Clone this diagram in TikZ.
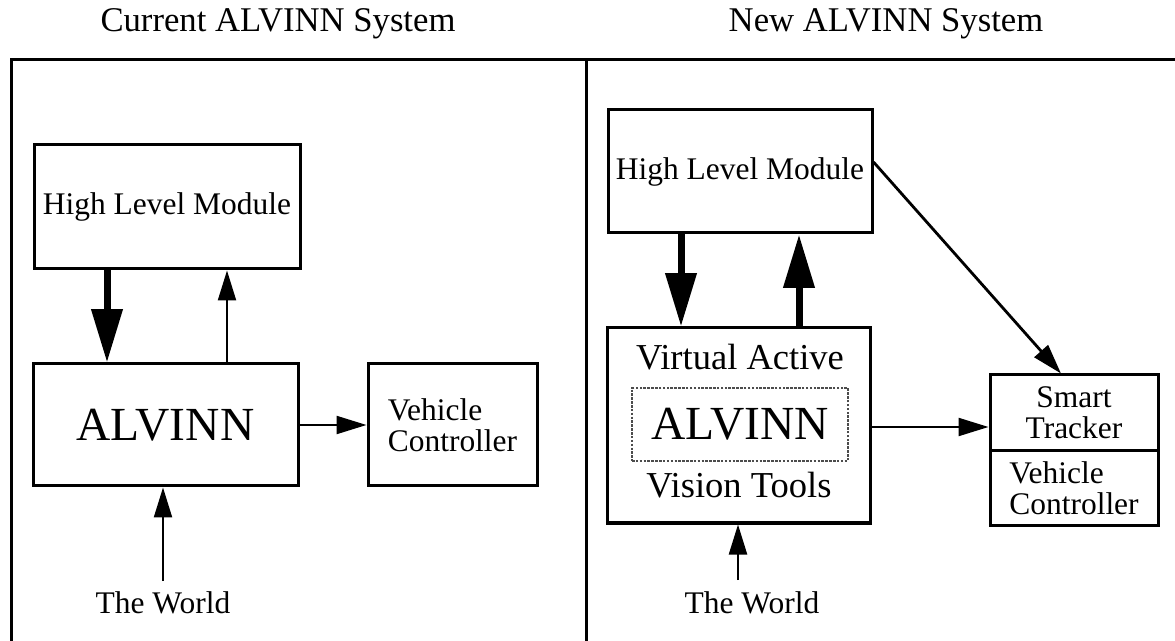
\documentclass[tikz,border=0pt]{standalone}
\usepackage{fontspec}
\setmainfont{Liberation Serif}
\usetikzlibrary{arrows.meta}
\tikzset{
  frameline/.style={line width=2.25pt},
  box/.style={draw, line width=2.25pt, rectangle, inner sep=0pt, align=center},
  lbox/.style={draw, line width=2.25pt, rectangle, inner sep=0pt, align=left},
  dotbox/.style={draw=black!70, line width=1.9pt, densely dotted, rectangle, inner sep=0pt},
  txt/.style={font=\fontsize{23.6pt}{23.3pt}\selectfont},
  ttl/.style={font=\fontsize{26pt}{30pt}\selectfont},
  big/.style={font=\fontsize{35.6pt}{40pt}\selectfont},
  vatxt/.style={font=\fontsize{27.4pt}{30pt}\selectfont},
  fatarr/.style={line width=5.25pt, -{Triangle[length=40pt,width=22.5pt]}},
  thinarr/.style={line width=1.7pt, -{Triangle[length=22.5pt,width=13.5pt]}},
}
\begin{document}
\begin{tikzpicture}[x=0.75pt, y=-0.75pt]
\useasboundingbox (0,0) rectangle (1175,641);
% titles
\node[ttl] (t1) at (278,24) {Current ALVINN System};
\node[ttl] (t2) at (886,24) {New ALVINN System};
% frame
\draw[frameline] (11,641) -- (11,60) -- (1175,60);
\draw[frameline] (586,60) -- (586,641);

% left panel
\node[box, txt, minimum width=199.5pt, minimum height=93pt] (hlm1) at (167,207) {High Level Module};
\node[box, big, minimum width=198.75pt, minimum height=91.5pt] (alv1) at (165.5,425) {ALVINN};
\node[lbox, txt, minimum width=126.75pt, minimum height=91.5pt] (vc1) at (452.5,425) {Vehicle\\Controller};
\node[txt] (w1) at (163,603) {The World};
\draw[fatarr] (hlm1.south -| 107,0) -- (alv1.north -| 107,0);
\draw[thinarr] (alv1.north -| 227,0) -- (hlm1.south -| 227,0);
\draw[thinarr] (alv1.east) -- (vc1.west);
\draw[thinarr] (w1.north -| 163,0) ++(0,-6) -- (alv1.south -| 163,0);

% right panel
\node[box, txt, minimum width=198pt, minimum height=92.25pt] (hlm2) at (740,171.5) {High Level Module};
\node[box, minimum width=197.25pt, minimum height=146.25pt] (va) at (738.5,425.5) {};
\node[vatxt] (va1) at (740,357) {Virtual Active};
\node[vatxt] (va2) at (739,485) {Vision Tools};
\node[dotbox, big, minimum width=162pt, minimum height=54.75pt] (alv2) at (740,424.5) {ALVINN};
\node[box, txt, minimum width=126pt, minimum height=57pt] (st) at (1074,413) {Smart\\Tracker};
\node[lbox, txt, minimum width=126pt, minimum height=55.5pt] (vc2) at (1074,488) {Vehicle\\Controller};
\node[txt] (w2) at (752,603) {The World};
\draw[fatarr] (hlm2.south -| 681,0) -- (va.north -| 681,0);
\draw[fatarr] (va.north -| 799,0) -- (hlm2.south -| 799,0);
\draw[thinarr, line width=2.1pt] (hlm2.east |- 0,162) -- (st.north -| 1061,0);
\draw[thinarr] (va.east |- 0,427) -- (st.west |- 0,427);
\draw[thinarr] (738,580) -- (va.south -| 738,0);
\end{tikzpicture}
\end{document}
